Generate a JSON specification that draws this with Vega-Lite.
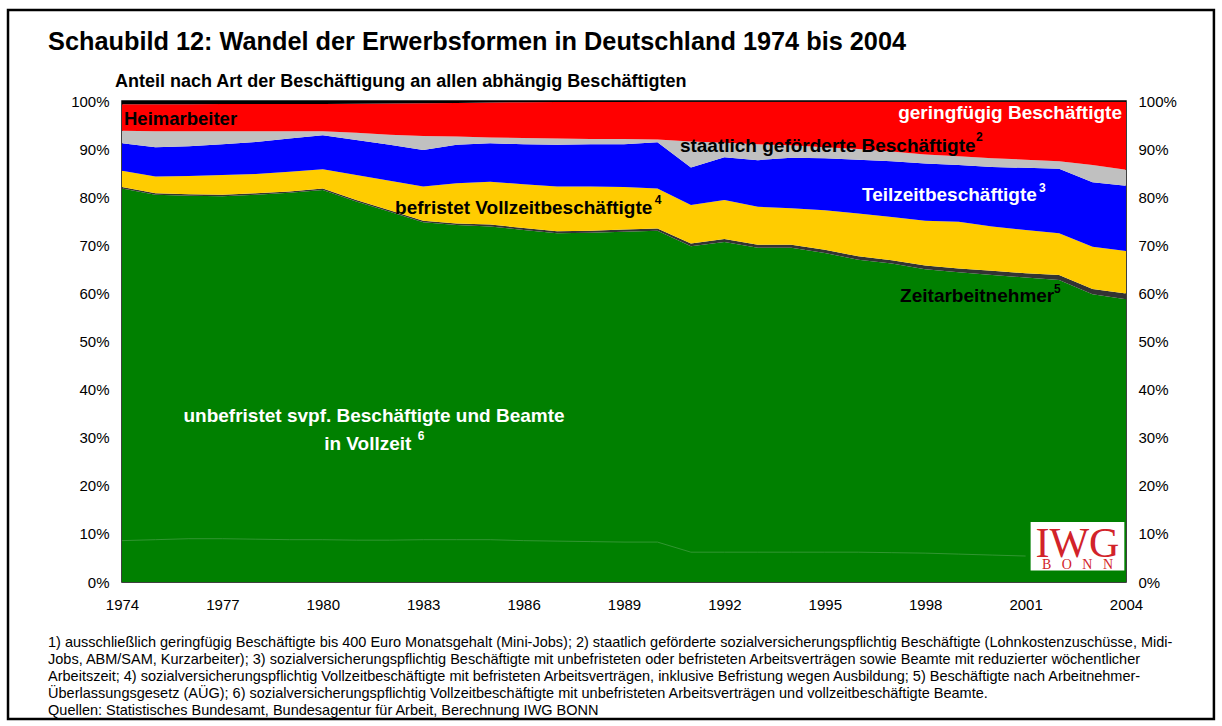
{
  "$schema": "https://vega.github.io/schema/vega-lite/v6.json",
  "width": 1004,
  "height": 481,
  "autosize": {"type": "none"},
  "padding": {"left": 122, "top": 101, "right": 96, "bottom": 144},
  "background": "white",
  "config": {
    "font": "Liberation Sans",
    "view": {"stroke": "black", "strokeWidth": 1.5},
    "axis": {"labelFont": "Liberation Sans", "labelFontSize": 15, "labelColor": "black", "ticks": false, "domain": false, "grid": false, "title": null}
  },
  "datasets": {
    "erwerb": [
      {"year": 1974, "a_unbef": 81.8, "b_zeit": 0.3, "c_befr": 3.4, "d_teilz": 5.7, "e_gefoerd": 2.6, "f_gering": 5.5, "g_heim": 0.7, "beamte": 8.6},
      {"year": 1975, "a_unbef": 80.5, "b_zeit": 0.3, "c_befr": 3.5, "d_teilz": 6.1, "e_gefoerd": 3.3, "f_gering": 5.6, "g_heim": 0.7, "beamte": 8.8},
      {"year": 1976, "a_unbef": 80.3, "b_zeit": 0.3, "c_befr": 3.8, "d_teilz": 6.2, "e_gefoerd": 3.1, "f_gering": 5.65, "g_heim": 0.65, "beamte": 9.0},
      {"year": 1977, "a_unbef": 80.2, "b_zeit": 0.3, "c_befr": 4.1, "d_teilz": 6.4, "e_gefoerd": 2.7, "f_gering": 5.7, "g_heim": 0.6, "beamte": 9.0},
      {"year": 1978, "a_unbef": 80.5, "b_zeit": 0.3, "c_befr": 4.0, "d_teilz": 6.7, "e_gefoerd": 2.2, "f_gering": 5.7, "g_heim": 0.6, "beamte": 8.9},
      {"year": 1979, "a_unbef": 80.9, "b_zeit": 0.3, "c_befr": 4.1, "d_teilz": 6.9, "e_gefoerd": 1.5, "f_gering": 5.7, "g_heim": 0.6, "beamte": 8.8},
      {"year": 1980, "a_unbef": 81.5, "b_zeit": 0.3, "c_befr": 4.0, "d_teilz": 7.1, "e_gefoerd": 0.8, "f_gering": 5.7, "g_heim": 0.6, "beamte": 8.8},
      {"year": 1981, "a_unbef": 79.1, "b_zeit": 0.3, "c_befr": 5.2, "d_teilz": 7.3, "e_gefoerd": 1.5, "f_gering": 6.05, "g_heim": 0.55, "beamte": 8.7},
      {"year": 1982, "a_unbef": 77.0, "b_zeit": 0.3, "c_befr": 6.1, "d_teilz": 7.5, "e_gefoerd": 2.1, "f_gering": 6.5, "g_heim": 0.5, "beamte": 8.7},
      {"year": 1983, "a_unbef": 74.8, "b_zeit": 0.3, "c_befr": 7.1, "d_teilz": 7.6, "e_gefoerd": 2.9, "f_gering": 6.85, "g_heim": 0.45, "beamte": 8.8},
      {"year": 1984, "a_unbef": 74.2, "b_zeit": 0.35, "c_befr": 8.35, "d_teilz": 8.0, "e_gefoerd": 1.7, "f_gering": 7.0, "g_heim": 0.4, "beamte": 8.8},
      {"year": 1985, "a_unbef": 73.9, "b_zeit": 0.4, "c_befr": 8.9, "d_teilz": 8.0, "e_gefoerd": 1.2, "f_gering": 7.3, "g_heim": 0.3, "beamte": 8.8},
      {"year": 1986, "a_unbef": 73.2, "b_zeit": 0.4, "c_befr": 9.1, "d_teilz": 8.3, "e_gefoerd": 1.3, "f_gering": 7.45, "g_heim": 0.25, "beamte": 8.6},
      {"year": 1987, "a_unbef": 72.5, "b_zeit": 0.4, "c_befr": 9.3, "d_teilz": 8.7, "e_gefoerd": 1.3, "f_gering": 7.6, "g_heim": 0.2, "beamte": 8.5},
      {"year": 1988, "a_unbef": 72.6, "b_zeit": 0.4, "c_befr": 9.2, "d_teilz": 8.8, "e_gefoerd": 1.1, "f_gering": 7.7, "g_heim": 0.2, "beamte": 8.4},
      {"year": 1989, "a_unbef": 72.8, "b_zeit": 0.5, "c_befr": 8.8, "d_teilz": 8.9, "e_gefoerd": 1.1, "f_gering": 7.7, "g_heim": 0.2, "beamte": 8.3},
      {"year": 1990, "a_unbef": 73.0, "b_zeit": 0.5, "c_befr": 8.3, "d_teilz": 9.6, "e_gefoerd": 0.6, "f_gering": 7.85, "g_heim": 0.15, "beamte": 8.3},
      {"year": 1991, "a_unbef": 69.8, "b_zeit": 0.6, "c_befr": 8.0, "d_teilz": 7.8, "e_gefoerd": 5.4, "f_gering": 8.25, "g_heim": 0.15, "beamte": 6.2},
      {"year": 1992, "a_unbef": 70.7, "b_zeit": 0.6, "c_befr": 8.1, "d_teilz": 8.9, "e_gefoerd": 3.0, "f_gering": 8.55, "g_heim": 0.15, "beamte": 6.2},
      {"year": 1993, "a_unbef": 69.5, "b_zeit": 0.6, "c_befr": 7.9, "d_teilz": 9.7, "e_gefoerd": 3.3, "f_gering": 8.85, "g_heim": 0.15, "beamte": 6.2},
      {"year": 1994, "a_unbef": 69.5, "b_zeit": 0.6, "c_befr": 7.6, "d_teilz": 10.5, "e_gefoerd": 2.6, "f_gering": 9.05, "g_heim": 0.15, "beamte": 6.2},
      {"year": 1995, "a_unbef": 68.4, "b_zeit": 0.7, "c_befr": 8.2, "d_teilz": 10.8, "e_gefoerd": 2.3, "f_gering": 9.45, "g_heim": 0.15, "beamte": 6.2},
      {"year": 1996, "a_unbef": 67.0, "b_zeit": 0.7, "c_befr": 8.9, "d_teilz": 11.2, "e_gefoerd": 2.2, "f_gering": 9.85, "g_heim": 0.15, "beamte": 6.2},
      {"year": 1997, "a_unbef": 66.2, "b_zeit": 0.7, "c_befr": 9.0, "d_teilz": 11.6, "e_gefoerd": 2.0, "f_gering": 10.35, "g_heim": 0.15, "beamte": 6.1},
      {"year": 1998, "a_unbef": 65.0, "b_zeit": 0.8, "c_befr": 9.3, "d_teilz": 11.9, "e_gefoerd": 1.9, "f_gering": 10.95, "g_heim": 0.15, "beamte": 6.0},
      {"year": 1999, "a_unbef": 64.4, "b_zeit": 0.8, "c_befr": 9.7, "d_teilz": 11.8, "e_gefoerd": 1.8, "f_gering": 11.35, "g_heim": 0.15, "beamte": 5.8},
      {"year": 2000, "a_unbef": 63.8, "b_zeit": 0.9, "c_befr": 9.2, "d_teilz": 12.4, "e_gefoerd": 1.8, "f_gering": 11.75, "g_heim": 0.15, "beamte": 5.6},
      {"year": 2001, "a_unbef": 63.3, "b_zeit": 0.9, "c_befr": 9.0, "d_teilz": 12.9, "e_gefoerd": 1.7, "f_gering": 12.05, "g_heim": 0.15, "beamte": 5.4},
      {"year": 2002, "a_unbef": 62.8, "b_zeit": 1.0, "c_befr": 8.7, "d_teilz": 13.4, "e_gefoerd": 1.6, "f_gering": 12.35, "g_heim": 0.15},
      {"year": 2003, "a_unbef": 59.8, "b_zeit": 1.1, "c_befr": 8.8, "d_teilz": 13.4, "e_gefoerd": 3.6, "f_gering": 13.15, "g_heim": 0.15},
      {"year": 2004, "a_unbef": 58.8, "b_zeit": 1.2, "c_befr": 8.8, "d_teilz": 13.6, "e_gefoerd": 3.3, "f_gering": 14.15, "g_heim": 0.15}
    ]
  },
  "layer": [
    {
      "data": {"name": "erwerb"},
      "transform": [{"fold": ["a_unbef", "b_zeit", "c_befr", "d_teilz", "e_gefoerd", "f_gering", "g_heim"], "as": ["cat", "v"]}],
      "mark": {"type": "area", "interpolate": "linear"},
      "encoding": {
        "x": {"field": "year", "type": "quantitative", "scale": {"domain": [1974, 2004], "nice": false, "zero": false},
              "axis": {"values": [1974, 1977, 1980, 1983, 1986, 1989, 1992, 1995, 1998, 2001, 2004], "format": "d", "labelPadding": 15, "labelFlush": false}},
        "y": {"field": "v", "type": "quantitative", "stack": "zero", "scale": {"domain": [0, 100], "nice": false},
              "axis": {"orient": "left", "values": [0, 10, 20, 30, 40, 50, 60, 70, 80, 90, 100], "labelExpr": "datum.value + '%'", "labelPadding": 13}},
        "color": {"field": "cat", "type": "nominal", "legend": null,
                  "scale": {"domain": ["a_unbef", "b_zeit", "c_befr", "d_teilz", "e_gefoerd", "f_gering", "g_heim"],
                            "range": ["#008000", "#333333", "#FFCC00", "#0000FF", "#C0C0C0", "#FF0000", "#000000"]}},
        "order": {"field": "cat", "type": "ordinal", "sort": "ascending"}
      }
    },
    {
      "data": {"name": "erwerb"},
      "mark": {"type": "point", "opacity": 0},
      "encoding": {
        "x": {"field": "year", "type": "quantitative", "scale": {"domain": [1974, 2004], "nice": false, "zero": false}, "axis": null},
        "y": {"field": "g_heim", "type": "quantitative", "scale": {"domain": [0, 100], "nice": false},
              "axis": {"orient": "right", "values": [0, 10, 20, 30, 40, 50, 60, 70, 80, 90, 100], "labelExpr": "datum.value + '%'", "labelPadding": 12}}
      }
    },
    {
      "data": {"name": "erwerb"},
      "mark": {"type": "line", "color": "#3f9a3f", "strokeWidth": 0.8},
      "encoding": {
        "x": {"field": "year", "type": "quantitative", "scale": {"domain": [1974, 2004], "nice": false, "zero": false}, "axis": null},
        "y": {"field": "beamte", "type": "quantitative", "scale": {"domain": [0, 100], "nice": false}, "axis": null}
      }
    },
    {
      "data": {"values": [{}]},
      "mark": {"type": "rect", "fill": "white"},
      "encoding": {
        "x": {"datum": 2001.15, "type": "quantitative", "scale": {"domain": [1974, 2004], "nice": false, "zero": false}, "axis": null},
        "x2": {"datum": 2003.95},
        "y": {"datum": 12.5, "type": "quantitative", "scale": {"domain": [0, 100], "nice": false}, "axis": null},
        "y2": {"datum": 2.4}
      }
    },
    {
      "data": {"values": [{}]},
      "mark": {"type": "text", "text": "IWG", "font": "Liberation Serif", "fontSize": 42, "fill": "#d2232a", "align": "center", "baseline": "alphabetic"},
      "encoding": {
        "x": {"datum": 2002.55, "type": "quantitative", "scale": {"domain": [1974, 2004], "nice": false, "zero": false}, "axis": null},
        "y": {"datum": 5.3, "type": "quantitative", "scale": {"domain": [0, 100], "nice": false}, "axis": null}
      }
    },
    {
      "data": {"values": [{}]},
      "mark": {"type": "text", "text": "B\u00a0\u00a0\u00a0O\u00a0\u00a0\u00a0N\u00a0\u00a0\u00a0N", "font": "Liberation Serif", "fontSize": 14, "fill": "#d2232a", "align": "center", "baseline": "alphabetic"},
      "encoding": {
        "x": {"datum": 2002.55, "type": "quantitative", "scale": {"domain": [1974, 2004], "nice": false, "zero": false}, "axis": null},
        "y": {"datum": 2.6, "type": "quantitative", "scale": {"domain": [0, 100], "nice": false}, "axis": null}
      }
    },
    {
      "data": {"values": [{}]},
      "mark": {"type": "text", "text": "Heimarbeiter", "fontWeight": "bold", "fontSize": 18.5, "fill": "black", "align": "left", "baseline": "middle"},
      "encoding": {
        "x": {"datum": 1974.06, "type": "quantitative", "scale": {"domain": [1974, 2004], "nice": false, "zero": false}, "axis": null},
        "y": {"datum": 96.3, "type": "quantitative", "scale": {"domain": [0, 100], "nice": false}, "axis": null}
      }
    },
    {
      "data": {"values": [{}]},
      "mark": {"type": "text", "text": "geringfügig Beschäftigte", "fontWeight": "bold", "fontSize": 19, "fill": "white", "align": "right", "baseline": "middle"},
      "encoding": {
        "x": {"datum": 2003.88, "type": "quantitative", "scale": {"domain": [1974, 2004], "nice": false, "zero": false}, "axis": null},
        "y": {"datum": 97.5, "type": "quantitative", "scale": {"domain": [0, 100], "nice": false}, "axis": null}
      }
    },
    {
      "data": {"values": [{}]},
      "mark": {"type": "text", "text": "staatlich geförderte Beschäftigte", "fontWeight": "bold", "fontSize": 19, "fill": "black", "align": "left", "baseline": "middle"},
      "encoding": {
        "x": {"datum": 1990.67, "type": "quantitative", "scale": {"domain": [1974, 2004], "nice": false, "zero": false}, "axis": null},
        "y": {"datum": 90.64, "type": "quantitative", "scale": {"domain": [0, 100], "nice": false}, "axis": null}
      }
    },
    {
      "data": {"values": [{}]},
      "mark": {"type": "text", "text": "2", "fontWeight": "bold", "fontSize": 12, "fill": "black", "align": "left", "baseline": "middle"},
      "encoding": {
        "x": {"datum": 1999.52, "type": "quantitative", "scale": {"domain": [1974, 2004], "nice": false, "zero": false}, "axis": null},
        "y": {"datum": 92.5, "type": "quantitative", "scale": {"domain": [0, 100], "nice": false}, "axis": null}
      }
    },
    {
      "data": {"values": [{}]},
      "mark": {"type": "text", "text": "Teilzeitbeschäftigte", "fontWeight": "bold", "fontSize": 19, "fill": "white", "align": "left", "baseline": "middle"},
      "encoding": {
        "x": {"datum": 1996.11, "type": "quantitative", "scale": {"domain": [1974, 2004], "nice": false, "zero": false}, "axis": null},
        "y": {"datum": 80.46, "type": "quantitative", "scale": {"domain": [0, 100], "nice": false}, "axis": null}
      }
    },
    {
      "data": {"values": [{}]},
      "mark": {"type": "text", "text": "3", "fontWeight": "bold", "fontSize": 12, "fill": "white", "align": "left", "baseline": "middle"},
      "encoding": {
        "x": {"datum": 2001.4, "type": "quantitative", "scale": {"domain": [1974, 2004], "nice": false, "zero": false}, "axis": null},
        "y": {"datum": 81.9, "type": "quantitative", "scale": {"domain": [0, 100], "nice": false}, "axis": null}
      }
    },
    {
      "data": {"values": [{}]},
      "mark": {"type": "text", "text": "befristet Vollzeitbeschäftigte", "fontWeight": "bold", "fontSize": 19, "fill": "black", "align": "left", "baseline": "middle"},
      "encoding": {
        "x": {"datum": 1982.16, "type": "quantitative", "scale": {"domain": [1974, 2004], "nice": false, "zero": false}, "axis": null},
        "y": {"datum": 77.75, "type": "quantitative", "scale": {"domain": [0, 100], "nice": false}, "axis": null}
      }
    },
    {
      "data": {"values": [{}]},
      "mark": {"type": "text", "text": "4", "fontWeight": "bold", "fontSize": 12, "fill": "black", "align": "left", "baseline": "middle"},
      "encoding": {
        "x": {"datum": 1989.92, "type": "quantitative", "scale": {"domain": [1974, 2004], "nice": false, "zero": false}, "axis": null},
        "y": {"datum": 79.4, "type": "quantitative", "scale": {"domain": [0, 100], "nice": false}, "axis": null}
      }
    },
    {
      "data": {"values": [{}]},
      "mark": {"type": "text", "text": "Zeitarbeitnehmer", "fontWeight": "bold", "fontSize": 19, "fill": "black", "align": "left", "baseline": "middle"},
      "encoding": {
        "x": {"datum": 1997.25, "type": "quantitative", "scale": {"domain": [1974, 2004], "nice": false, "zero": false}, "axis": null},
        "y": {"datum": 59.46, "type": "quantitative", "scale": {"domain": [0, 100], "nice": false}, "axis": null}
      }
    },
    {
      "data": {"values": [{}]},
      "mark": {"type": "text", "text": "5", "fontWeight": "bold", "fontSize": 12, "fill": "black", "align": "left", "baseline": "middle"},
      "encoding": {
        "x": {"datum": 2001.85, "type": "quantitative", "scale": {"domain": [1974, 2004], "nice": false, "zero": false}, "axis": null},
        "y": {"datum": 60.9, "type": "quantitative", "scale": {"domain": [0, 100], "nice": false}, "axis": null}
      }
    },
    {
      "data": {"values": [{}]},
      "mark": {"type": "text", "text": "unbefristet svpf. Beschäftigte und Beamte", "fontWeight": "bold", "fontSize": 19, "fill": "white", "align": "center", "baseline": "middle"},
      "encoding": {
        "x": {"datum": 1981.53, "type": "quantitative", "scale": {"domain": [1974, 2004], "nice": false, "zero": false}, "axis": null},
        "y": {"datum": 34.5, "type": "quantitative", "scale": {"domain": [0, 100], "nice": false}, "axis": null}
      }
    },
    {
      "data": {"values": [{}]},
      "mark": {"type": "text", "text": "in Vollzeit", "fontWeight": "bold", "fontSize": 19, "fill": "white", "align": "left", "baseline": "middle"},
      "encoding": {
        "x": {"datum": 1980.04, "type": "quantitative", "scale": {"domain": [1974, 2004], "nice": false, "zero": false}, "axis": null},
        "y": {"datum": 28.7, "type": "quantitative", "scale": {"domain": [0, 100], "nice": false}, "axis": null}
      }
    },
    {
      "data": {"values": [{}]},
      "mark": {"type": "text", "text": "6", "fontWeight": "bold", "fontSize": 12, "fill": "white", "align": "left", "baseline": "middle"},
      "encoding": {
        "x": {"datum": 1982.84, "type": "quantitative", "scale": {"domain": [1974, 2004], "nice": false, "zero": false}, "axis": null},
        "y": {"datum": 30.35, "type": "quantitative", "scale": {"domain": [0, 100], "nice": false}, "axis": null}
      }
    },
    {
      "data": {"values": [{}]},
      "mark": {"type": "text", "text": "Schaubild 12: Wandel der Erwerbsformen in Deutschland 1974 bis 2004", "fontWeight": "bold", "fontSize": 25.3, "fill": "black", "align": "left", "baseline": "middle"},
      "encoding": {
        "x": {"datum": 1971.79, "type": "quantitative", "scale": {"domain": [1974, 2004], "nice": false, "zero": false}, "axis": null},
        "y": {"datum": 112.27, "type": "quantitative", "scale": {"domain": [0, 100], "nice": false}, "axis": null}
      }
    },
    {
      "data": {"values": [{}]},
      "mark": {"type": "text", "text": "Anteil nach Art der Beschäftigung an allen abhängig Beschäftigten", "fontWeight": "bold", "fontSize": 18, "fill": "black", "align": "left", "baseline": "middle"},
      "encoding": {
        "x": {"datum": 1973.79, "type": "quantitative", "scale": {"domain": [1974, 2004], "nice": false, "zero": false}, "axis": null},
        "y": {"datum": 103.95, "type": "quantitative", "scale": {"domain": [0, 100], "nice": false}, "axis": null}
      }
    },
    {
      "data": {"values": [{}]},
      "mark": {"type": "text", "fontSize": 14.5, "fill": "black", "align": "left", "baseline": "top", "lineHeight": 17,
               "text": [
                 "1) ausschließlich geringfügig Beschäftigte bis 400 Euro Monatsgehalt (Mini-Jobs); 2) staatlich geförderte sozialversicherungspflichtig Beschäftigte (Lohnkostenzuschüsse, Midi-",
                 "Jobs, ABM/SAM, Kurzarbeiter); 3) sozialversicherungspflichtig Beschäftigte mit unbefristeten oder befristeten Arbeitsverträgen sowie Beamte mit reduzierter wöchentlicher",
                 "Arbeitszeit; 4) sozialversicherungspflichtig Vollzeitbeschäftigte mit befristeten Arbeitsverträgen, inklusive Befristung wegen Ausbildung; 5) Beschäftigte nach Arbeitnehmer-",
                 "Überlassungsgesetz (AÜG); 6) sozialversicherungspflichtig Vollzeitbeschäftigte mit unbefristeten Arbeitsverträgen und vollzeitbeschäftigte Beamte.",
                 "Quellen: Statistisches Bundesamt, Bundesagentur für Arbeit, Berechnung IWG BONN"
               ]},
      "encoding": {
        "x": {"datum": 1971.79, "type": "quantitative", "scale": {"domain": [1974, 2004], "nice": false, "zero": false}, "axis": null},
        "y": {"datum": -11.23, "type": "quantitative", "scale": {"domain": [0, 100], "nice": false}, "axis": null}
      }
    },
    {
      "data": {"values": [{}]},
      "mark": {"type": "rect", "fill": "transparent", "stroke": "black", "strokeWidth": 2.5},
      "encoding": {
        "x": {"datum": 1970.594, "type": "quantitative", "scale": {"domain": [1974, 2004], "nice": false, "zero": false}, "axis": null},
        "x2": {"datum": 2006.627},
        "y": {"datum": 118.92, "type": "quantitative", "scale": {"domain": [0, 100], "nice": false}, "axis": null},
        "y2": {"datum": -28.48}
      }
    }
  ],
  "resolve": {"scale": {"x": "independent", "y": "independent"}}
}
